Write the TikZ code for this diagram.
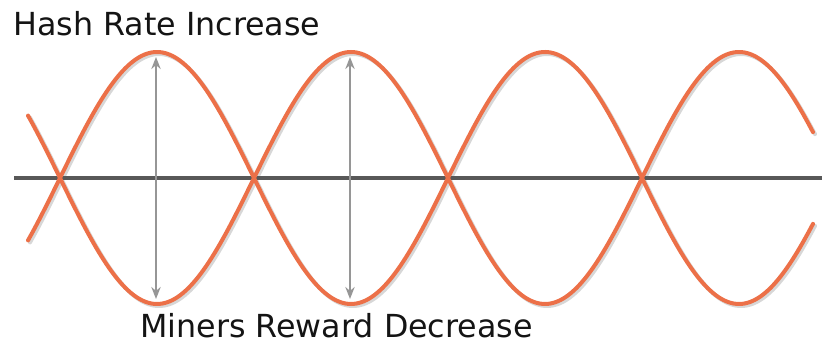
\documentclass[tikz,border=0pt]{standalone}
\usepackage{fontspec}
\setmainfont{DejaVu Sans}
\usetikzlibrary{arrows.meta}
\definecolor{wave}{RGB}{236,112,72}
\definecolor{waveshadow}{RGB}{215,215,215}
\definecolor{axisgray}{RGB}{88,88,88}
\definecolor{arrowgray}{RGB}{150,150,150}
\tikzset{
  wavecurve/.style={draw=wave, line width=3pt, line cap=round},
  waveshade/.style={draw=waveshadow, line width=3pt, line cap=round},
  axisline/.style={draw=axisgray, line width=3pt},
  measure/.style={draw=arrowgray, line width=1.5pt, {Stealth[length=9pt,width=7pt]}-{Stealth[length=9pt,width=7pt]}},
  label/.style={inner sep=0pt, font=\fontsize{23.8pt}{27pt}\selectfont, text=black!92}
}
\begin{document}
\begin{tikzpicture}[x=0.75pt, y=-0.75pt]
\useasboundingbox (0,0) rectangle (822,345);
% axis
\coordinate (axL) at (14,178);
\coordinate (axR) at (822,178);
% shadows
\draw[waveshade, domain=28:813, samples=300, variable=\x] plot ({\x+2}, {180 - 126*sin(0.927835*(\x-60))});
\draw[waveshade, domain=28:813, samples=300, variable=\x] plot ({\x+2}, {180 + 126*sin(0.927835*(\x-60))});
\draw[axisline] (axL) -- (axR);
% waves
\draw[wavecurve, domain=28:813, samples=300, variable=\x] plot (\x, {178 - 126*sin(0.927835*(\x-60))});
\draw[wavecurve, domain=28:813, samples=300, variable=\x] plot (\x, {178 + 126*sin(0.927835*(\x-60))});
% measurement arrows
\coordinate (a1t) at (156,57);
\coordinate (a1b) at (156,299);
\coordinate (a2t) at (350,57);
\coordinate (a2b) at (350,299);
\draw[measure] (a1t) -- (a1b);
\draw[measure] (a2t) -- (a2b);
% labels
\node[label, anchor=base west] (hash) at (13,36) {Hash Rate Increase};
\node[label, anchor=base west] (miners) at (140,338) {Miners Reward Decrease};
\end{tikzpicture}
\end{document}
